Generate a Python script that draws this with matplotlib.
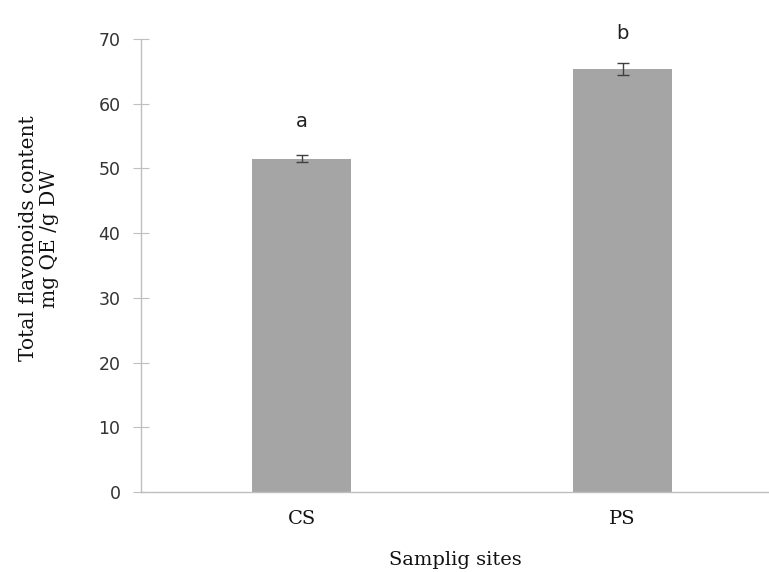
import matplotlib
matplotlib.use("Agg")
import matplotlib.pyplot as plt

sites = ["CS", "PS"]
flavonoids = [51.5, 65.4]
errors = [0.5, 0.9]
letters = ["a", "b"]
letter_y = [57.2, 70.9]

fig = plt.figure(figsize=(7.69, 5.72), dpi=100)
# plot area runs past the right edge of the picture, as in the original
ax = fig.add_axes([141 / 769, 1 - 492 / 572, 642 / 769, 453 / 572])

x = range(len(sites))
ax.bar(x, flavonoids, width=0.31, color="#A5A5A5", zorder=2)
ax.errorbar(x, flavonoids, yerr=errors, fmt="none", ecolor="#404040",
            elinewidth=1, capsize=4, capthick=1, zorder=3)

for i, (lab, ly) in enumerate(zip(letters, letter_y)):
    ax.text(i, ly, lab, ha="center", va="center", fontsize=14,
            family="DejaVu Sans", color="#222222", clip_on=False)

ax.set_xlim(-0.5, 1.5)
ax.set_ylim(0, 70)
ax.set_yticks(range(0, 71, 10))
ax.set_xticks(list(x))
ax.set_xticklabels(sites, family="DejaVu Serif", fontsize=14)

for side in ["top", "right"]:
    ax.spines[side].set_visible(False)
for side in ["left", "bottom"]:
    ax.spines[side].set_color("#BFBFBF")
    ax.spines[side].set_linewidth(1)

ax.tick_params(axis="y", direction="inout", length=11.5, color="#BFBFBF",
               labelsize=12.5, labelcolor="#333333", pad=9)
ax.tick_params(axis="x", length=0, pad=13, labelcolor="#111111")
for t in ax.get_yticklabels():
    t.set_family("DejaVu Sans")

fig.text(39 / 769, 1 - 238 / 572, "Total flavonoids content\nmg QE /g DW",
         rotation=90, ha="center", va="center", fontsize=14.5,
         family="DejaVu Serif", color="#111111", linespacing=1.15)
fig.text(455 / 769, 1 - 560 / 572, "Samplig sites", ha="center", va="center",
         fontsize=14, family="DejaVu Serif", color="#111111")

fig.savefig("out.png", dpi=100)
